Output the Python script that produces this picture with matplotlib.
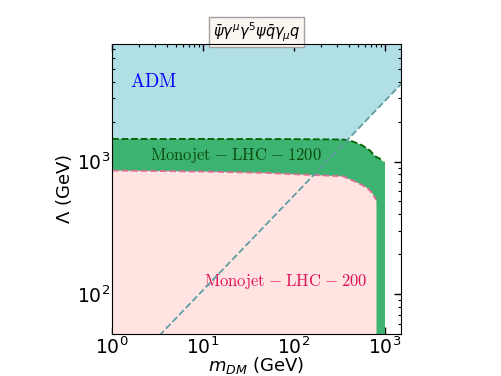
import matplotlib
matplotlib.use('Agg')
import matplotlib.pyplot as plt

# ADM boundary (diagonal dashed line)
m_adm = [1.0, 1500.0]
lam_adm = [20.7, 3830.0]

# Monojet LHC 1200 upper boundary
m_1200 = [1, 10, 100, 345, 434, 559, 684, 777, 881, 950, 1000]
lam_1200 = [1480, 1480, 1475, 1466, 1423, 1327, 1211, 1096, 1048, 1000, 1000]

# Monojet LHC 200 upper boundary
m_200 = [1, 10, 50, 116, 345, 505, 634, 719, 796, 807]
lam_200 = [855, 840, 820, 798, 774, 690, 634, 581, 516, 500]

xlim = (1, 1500)
ylim = (50, 7700)

fig = plt.figure(figsize=(5.01, 3.76), dpi=100)
ax = fig.add_axes([112/501, 1-334/376, (401-112)/501, (334-44)/376])
ax.set_xscale('log')
ax.set_yscale('log')

ax.fill_between(m_adm, lam_adm, 1e5, color='#B0E0E6', lw=0, zorder=1)
ax.fill_between(m_1200, lam_1200, 1, color='#3CB371', lw=0, zorder=2)
ax.fill_between(m_200, lam_200, 1, color='#FFE4E1', lw=0, zorder=3)
ax.plot(m_1200[:-1], lam_1200[:-1], ls='--', color='#006400', lw=1.3, zorder=4)
ax.plot(m_200[:-1], lam_200[:-1], ls='--', color='#DB7093', lw=1.3, zorder=4)
ax.plot(m_adm, lam_adm, ls='--', color='#5F9EA0', lw=1.3, zorder=5)

ax.set_xlim(*xlim)
ax.set_ylim(*ylim)

ax.text(0.062, 0.87, r'$\mathrm{ADM}$', color='blue', fontsize=13.5,
        math_fontfamily='cm', transform=ax.transAxes, ha='left', va='center')
ax.text(0.43, 0.617, r'$\mathrm{Monojet}\;{-}\;\mathrm{LHC}\;{-}\;1200$', color='#0B4D0B',
        fontsize=12, math_fontfamily='cm', transform=ax.transAxes, ha='center', va='center')
ax.text(0.60, 0.18, r'$\mathrm{Monojet}\;{-}\;\mathrm{LHC}\;{-}\;200$', color='#E0105A',
        fontsize=12, math_fontfamily='cm', transform=ax.transAxes, ha='center', va='center')

ax.set_title(r'$\bar{\psi}\gamma^{\mu}\gamma^5\psi\bar{q}\gamma_{\mu}q$', fontsize=10.5,
             bbox=dict(facecolor='#FBF7F0', edgecolor='#A0A0A0', pad=2.5), pad=5)

ax.set_xlabel(r'$m_{DM}$ (GeV)', fontsize=13, labelpad=-1.5)
ax.set_ylabel(r'$\Lambda$ (GeV)', fontsize=13, labelpad=2)
ax.tick_params(which='both', direction='in', top=True, right=True, labelsize=13.5, pad=1.5)
ax.tick_params(which='major', length=5, width=1)
ax.tick_params(which='minor', length=2.5, width=0.8)
for s in ax.spines.values():
    s.set_zorder(10)

fig.savefig('out.png', dpi=100)
